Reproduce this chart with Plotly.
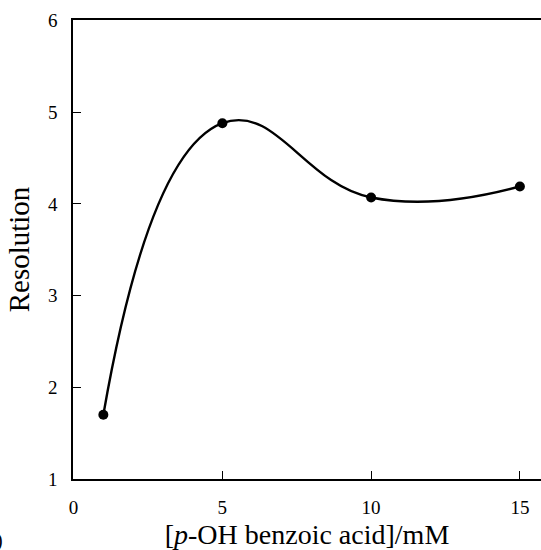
import plotly.graph_objects as go

conc = [1, 5, 10, 15]
resolution = [1.70, 4.88, 4.07, 4.19]
x_ticks = [0, 5, 10, 15]
y_ticks = [1, 2, 3, 4, 5, 6]

W, H = 541, 550
L, R, T, B = 73, 0, 20, 71
pw, ph = W - L - R, H - T - B

font = "Liberation Serif, Times New Roman, serif"

fig = go.Figure()
fig.add_trace(go.Scatter(
    x=conc, y=resolution, mode="lines",
    line=dict(shape="spline", smoothing=1.3, color="black", width=2.4),
    hoverinfo="skip", showlegend=False))
fig.add_trace(go.Scatter(
    x=conc, y=resolution, mode="markers",
    marker=dict(size=10, color="black"), showlegend=False))

fig.update_layout(
    width=W, height=H,
    margin=dict(l=L, r=R, t=T, b=B, pad=0),
    paper_bgcolor="white", plot_bgcolor="white",
    font=dict(family=font, color="black"),
    xaxis=dict(range=[-0.02, 15.71], tickvals=x_ticks, ticks="inside", ticklen=8,
               tickwidth=1.2, tickcolor="black", showline=True, linecolor="black",
               linewidth=1.5, mirror=True, showgrid=False, zeroline=False,
               tickfont=dict(size=19), ticklabelstandoff=10,
               title=dict(text="[<i>p</i>-OH benzoic acid]/mM", font=dict(size=28), standoff=10)),
    yaxis=dict(range=[1, 6.005], tickvals=y_ticks, ticks="inside", ticklen=8,
               tickwidth=1.2, tickcolor="black", showline=True, linecolor="black",
               linewidth=1.5, showgrid=False, zeroline=False,
               tickfont=dict(size=19), ticklabelstandoff=10,
               title=dict(text="Resolution", font=dict(size=29), standoff=10)),
    annotations=[dict(text=")", x=(5 - L) / pw, y=(479 - 540) / ph, xref="paper", yref="paper",
                      xanchor="right", yanchor="middle", showarrow=False,
                      font=dict(size=20, family=font))],
)

fig.write_html("out.html")
